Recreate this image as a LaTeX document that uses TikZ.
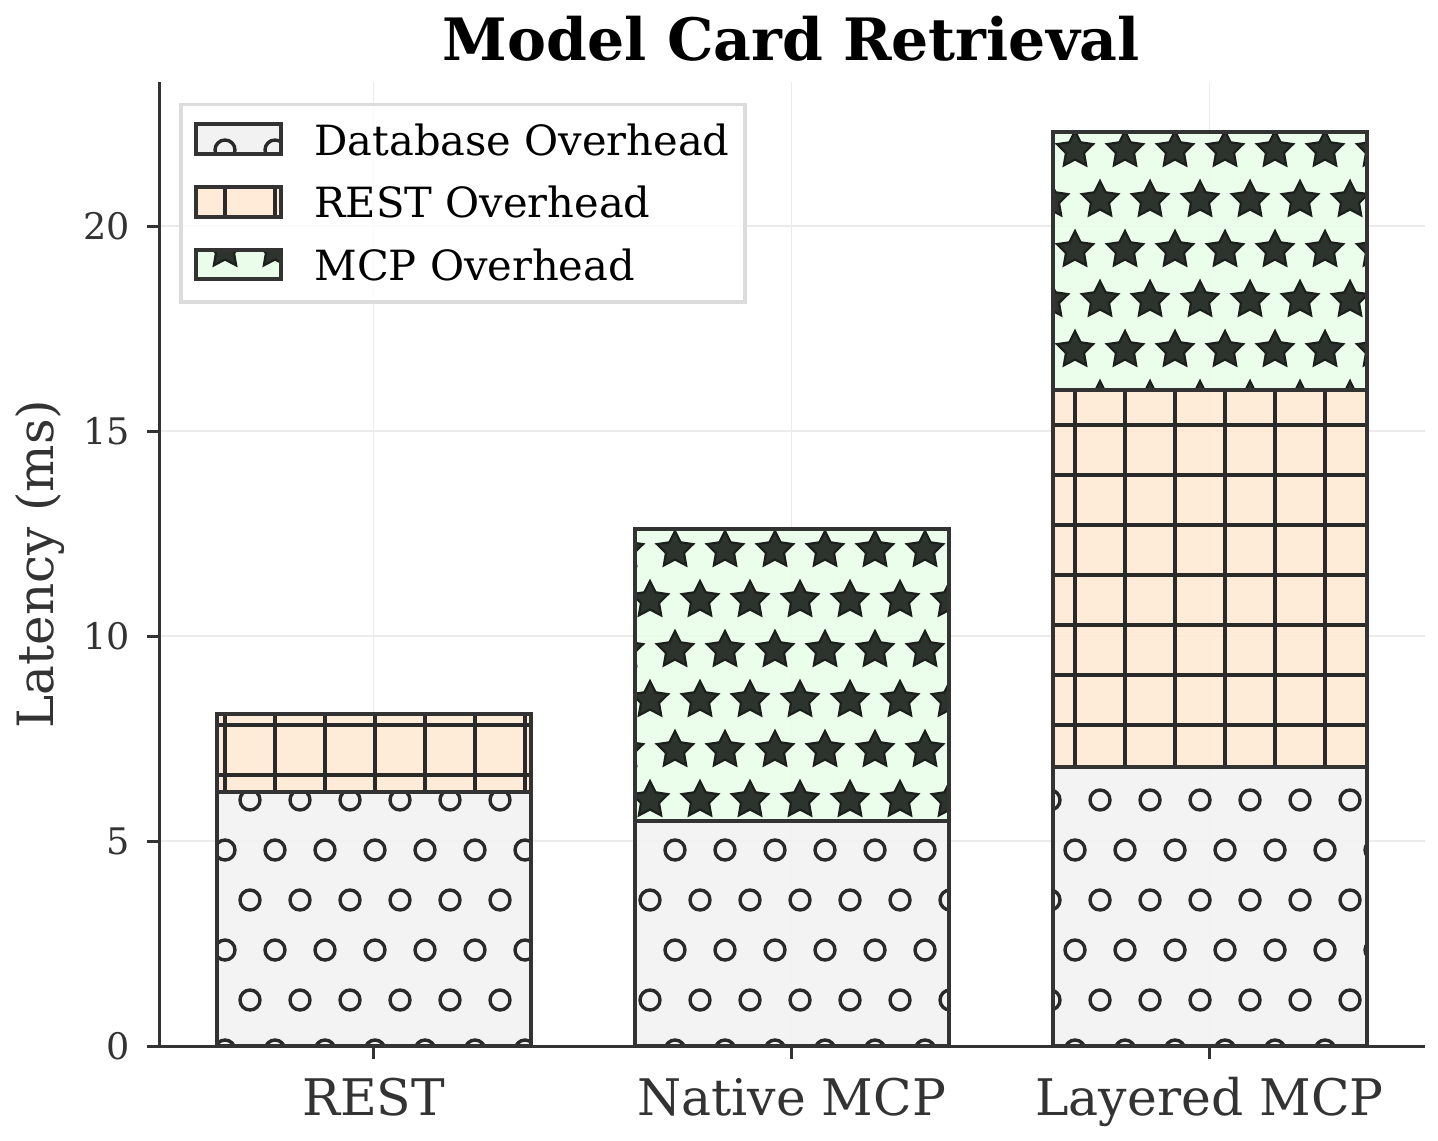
\documentclass[tikz,border=0pt]{standalone}
\usepackage{fontspec}
\setmainfont{DejaVu Serif}
\definecolor{dbfill}{HTML}{F2F2F2}
\definecolor{restfill}{HTML}{FFEAD5}
\definecolor{mcpfill}{HTML}{E9FDE9}
\definecolor{edgegray}{HTML}{333333}
\definecolor{hatchgray}{HTML}{2A2A2A}
\definecolor{stargray}{HTML}{2D332D}
\definecolor{stardark}{HTML}{1C201C}
\definecolor{gridgray}{HTML}{EBEBEB}
\definecolor{framegray}{HTML}{DCDCDC}
\definecolor{txtgray}{HTML}{333333}
\tikzset
{
    segedge/.style  = {draw=edgegray, line width=2pt},
    ringmark/.style = {draw=hatchgray, line width=1.7pt},
    gridmark/.style = {draw=hatchgray, line width=1.6pt},
    starmark/.style = {fill=stargray, draw=stardark, line width=1.1pt},
    starpic/.pic    = {\filldraw[starmark] (-90:19) -- (-54:9.5) -- (-18:19) -- (18:9.5) -- (54:19) -- (90:9.5) -- (126:19) -- (162:9.5) -- (198:19) -- (234:9.5) -- cycle;},
    gridline/.style = {draw=gridgray, line width=0.8pt},
    spine/.style    = {draw=edgegray, line width=1.5pt},
    legframe/.style = {draw=framegray, line width=1.6pt, fill=white, fill opacity=0.8},
    titletxt/.style = {font=\bfseries\fontsize{29.2}{35}\selectfont, text=black, inner sep=0pt},
    yticktxt/.style = {font=\fontsize{18.3}{22}\selectfont, text=txtgray, anchor=east, inner sep=0pt},
    xticktxt/.style = {font=\fontsize{25.2}{30}\selectfont, text=txtgray, anchor=base, inner sep=0pt},
    axistxt/.style  = {font=\fontsize{25}{30}\selectfont, text=txtgray, inner sep=0pt},
    legtxt/.style   = {font=\fontsize{20.8}{25}\selectfont, text=black, anchor=base west, inner sep=0pt}
}
% hatches on a 50px lattice, clipped to the box x1,y1 (top) -- x2,y2 (bottom)
\newcommand{\ringhatch}[4]{%
  \begin{scope}
    \clip ({#1},{#2}) rectangle ({#3},{#4});
    \pgfmathtruncatemacro{\jlo}{floor((#2)/50)}
    \pgfmathtruncatemacro{\jhi}{ceil((#4)/50)}
    \pgfmathtruncatemacro{\ilo}{floor((#1)/50)-1}
    \pgfmathtruncatemacro{\ihi}{ceil((#3)/50)}
    \foreach \j in {\jlo,...,\jhi}
      \foreach \i in {\ilo,...,\ihi}
        \draw[ringmark] ({50*\i+25*mod(\j,2)},{50*\j}) circle[radius=10];
  \end{scope}}
\newcommand{\starhatch}[4]{%
  \begin{scope}
    \clip ({#1},{#2}) rectangle ({#3},{#4});
    \pgfmathtruncatemacro{\jlo}{floor((#2)/50)}
    \pgfmathtruncatemacro{\jhi}{ceil((#4)/50)}
    \pgfmathtruncatemacro{\ilo}{floor((#1)/50)-1}
    \pgfmathtruncatemacro{\ihi}{ceil((#3)/50)}
    \foreach \j in {\jlo,...,\jhi}
      \foreach \i in {\ilo,...,\ihi}
        \pic at ({50*\i+25*mod(\j,2)},{50*\j}) {starpic};
  \end{scope}}
\newcommand{\crosshatch}[4]{%
  \begin{scope}
    \clip ({#1},{#2}) rectangle ({#3},{#4});
    \pgfmathtruncatemacro{\jlo}{floor((#2)/50)-1}
    \pgfmathtruncatemacro{\jhi}{ceil((#4)/50)}
    \pgfmathtruncatemacro{\ilo}{floor((#1)/50)-1}
    \pgfmathtruncatemacro{\ihi}{ceil((#3)/50)}
    \foreach \i in {\ilo,...,\ihi}
      \draw[gridmark] ({50*\i+25},{#2}) -- ({50*\i+25},{#4});
    \foreach \j in {\jlo,...,\jhi}
      \draw[gridmark] ({#1},{50*\j+25}) -- ({#3},{50*\j+25});
  \end{scope}}
% fill, hatch, edge
\newcommand{\hatchbox}[6]{%
  \fill[#1, fill opacity=0.92] ({#3},{#4}) rectangle ({#5},{#6});
  #2{#3}{#4}{#5}{#6}
  \draw[segedge] ({#3},{#4}) rectangle ({#5},{#6});}
\begin{document}
\begin{tikzpicture}[x=0.5pt, y=-0.5pt, declare function={ypx(\v)=1046-41*\v;}]
\useasboundingbox (0,0) rectangle (1438,1140);

% grid
\foreach \v in {5,10,15,20}
  \draw[gridline] (159,{ypx(\v)}) -- (1425,{ypx(\v)});
\foreach \c in {373.5,791.5,1209.5}
  \draw[gridline] (\c,82) -- (\c,1046);

% REST
\hatchbox{dbfill}{\ringhatch}{216.5}{ypx(6.2)}{530.5}{ypx(0)}
\hatchbox{restfill}{\crosshatch}{216.5}{ypx(8.1)}{530.5}{ypx(6.2)}
% Native MCP
\hatchbox{dbfill}{\ringhatch}{634.5}{ypx(5.5)}{948.5}{ypx(0)}
\hatchbox{mcpfill}{\starhatch}{634.5}{ypx(12.6)}{948.5}{ypx(5.5)}
% Layered MCP
\hatchbox{dbfill}{\ringhatch}{1052.5}{ypx(6.8)}{1366.5}{ypx(0)}
\hatchbox{restfill}{\crosshatch}{1052.5}{ypx(16.0)}{1366.5}{ypx(6.8)}
\hatchbox{mcpfill}{\starhatch}{1052.5}{ypx(22.3)}{1366.5}{ypx(16.0)}

% axes
\draw[spine] (159,82) -- (159,1046) -- (1425,1046);
\foreach \v in {0,5,10,15,20} {
  \draw[spine] (147,{ypx(\v)}) -- (159,{ypx(\v)});
  \node[yticktxt] (ytick\v) at (130,{ypx(\v)}) {\v};
}
\foreach \c/\name/\lab in {373.5/rest/REST, 791.5/native/Native MCP, 1209.5/layered/Layered MCP} {
  \draw[spine] (\c,1046) -- (\c,1059);
  \node[xticktxt] (x\name) at (\c,1115) {\lab};
}
\node[axistxt, rotate=90, anchor=base] (ylabel) at (53,564) {Latency (ms)};
\node[titletxt, anchor=base] (title) at (791.5,60) {Model Card Retrieval};

% legend
\draw[legframe] (181,104.5) rectangle (745,302);
\hatchbox{dbfill}{\ringhatch}{196}{124}{281}{154}
\hatchbox{restfill}{\crosshatch}{196}{187}{281}{216.5}
\hatchbox{mcpfill}{\starhatch}{196}{250}{281}{279}
\node[legtxt] (legdb) at (314,155) {Database Overhead};
\node[legtxt] (legrest) at (314,217.5) {REST Overhead};
\node[legtxt] (legmcp) at (314,280) {MCP Overhead};
\end{tikzpicture}
\end{document}
